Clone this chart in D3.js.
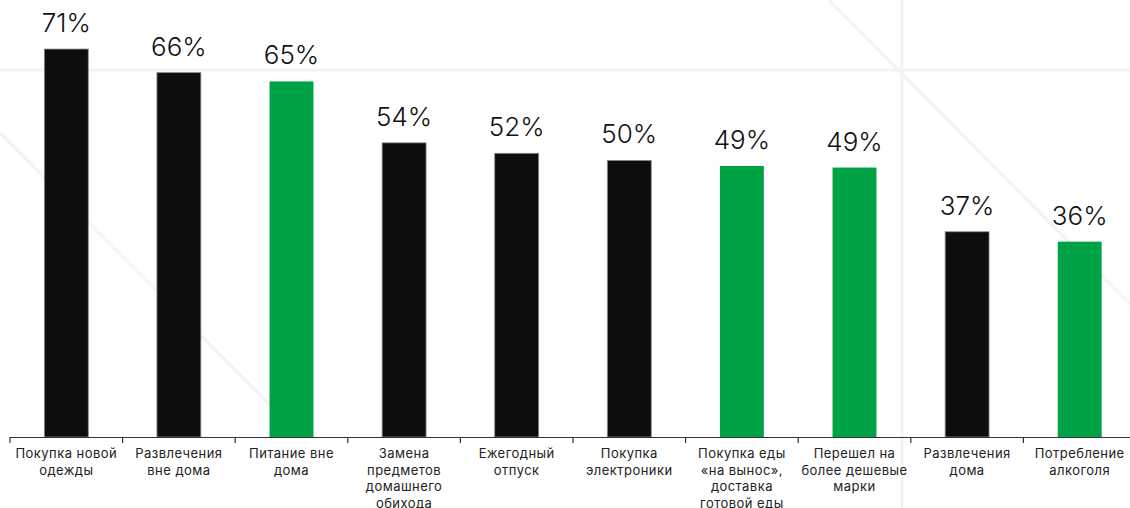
<!DOCTYPE html>
<html>
<head>
<meta charset="utf-8">
<script src="https://cdn.jsdelivr.net/npm/d3@7"></script>
<style>
  html, body { margin: 0; padding: 0; background: #fff; }
  svg { display: block; }
</style>
</head>
<body>
<svg id="chart" width="1130" height="508"></svg>
<script>
const categories = [
  "Покупка новой\nодежды",
  "Развлечения\nвне дома",
  "Питание вне\nдома",
  "Замена\nпредметов\nдомашнего\nобихода",
  "Ежегодный\nотпуск",
  "Покупка\nэлектроники",
  "Покупка еды\n«на вынос»,\nдоставка\nготовой еды",
  "Перешел на\nболее дешевые\nмарки",
  "Развлечения\nдома",
  "Потребление\nалкоголя"
];
const values = [70.7, 66.4, 64.8, 53.6, 51.7, 50.4, 49.4, 49.1, 37.4, 35.6];
const valueLabels = ["71%", "66%", "65%", "54%", "52%", "50%", "49%", "49%", "37%", "36%"];
const groups = ["a", "a", "b", "a", "a", "a", "b", "b", "a", "b"];

const W = 1130, H = 508;
const svg = d3.select("#chart");

// faint decorative background lines
const deco = svg.append("g").attr("stroke", "#f3f3f3").attr("stroke-width", 3).attr("fill", "none");
deco.append("line").attr("x1", 0).attr("x2", W).attr("y1", 70).attr("y2", 70);
deco.append("line").attr("x1", 902).attr("x2", 902).attr("y1", 0).attr("y2", H);
deco.append("line").attr("x1", 0).attr("y1", 133).attr("x2", 272).attr("y2", 407);
deco.append("line").attr("x1", 829).attr("y1", 0).attr("x2", 1130).attr("y2", 304);

const x = d3.scaleBand().domain(categories).range([10, 1136]).paddingInner(0.61).paddingOuter(0.305);
const slot = d3.scaleBand().domain(categories).range([10, 1136]).padding(0);
const y = d3.scaleLinear().domain([0, 80]).range([437, -2]);
const color = d3.scaleOrdinal().domain(["a", "b"]).range(["#0d0d0d", "#00a246"]);

const data = categories.map((c, i) => ({ c, v: values[i], lab: valueLabels[i], g: groups[i] }));

svg.append("g").selectAll("rect").data(data).join("rect")
  .attr("x", d => x(d.c))
  .attr("width", x.bandwidth())
  .attr("y", d => y(d.v))
  .attr("height", d => y(0) - y(d.v))
  .attr("fill", d => color(d.g))
  .attr("stroke", d => d.g === "a" ? "#8a8a8a" : "none")
  .attr("stroke-width", 0.8);

svg.append("g").selectAll("text").data(data).join("text")
  .attr("x", d => x(d.c) + x.bandwidth() / 2)
  .attr("y", d => y(d.v) - 17)
  .attr("text-anchor", "middle")
  .attr("font-family", "Inter, 'Open Sans', sans-serif")
  .attr("font-weight", 300)
  .attr("font-size", 26)
  .attr("fill", "#111")
  .text(d => d.lab);

// axis
const axisG = svg.append("g").attr("transform", `translate(0,${y(0)})`);
axisG.append("line").attr("x1", slot.range()[0]).attr("x2", W).attr("y1", 0.5).attr("y2", 0.5)
  .attr("stroke", "#333").attr("stroke-width", 1.2);
axisG.selectAll("line.tick").data(categories).join("line").attr("class", "tick")
  .attr("x1", d => slot(d)).attr("x2", d => slot(d))
  .attr("y1", 0).attr("y2", 6)
  .attr("stroke", "#333").attr("stroke-width", 1.2);

const lab = axisG.selectAll("text.cat").data(categories).join("text").attr("class", "cat")
  .attr("text-anchor", "middle")
  .attr("font-family", "Inter, 'Open Sans', sans-serif")
  .attr("font-size", 13)
  .attr("letter-spacing", 0.45)
  .attr("fill", "#222");
lab.each(function(d) {
  const t = d3.select(this);
  const cx = slot(d) + slot.bandwidth() / 2;
  d.split("\n").forEach((line, k) => {
    t.append("tspan").attr("x", cx).attr("y", 21 + k * 16.5).text(line);
  });
});
</script>
</body>
</html>
